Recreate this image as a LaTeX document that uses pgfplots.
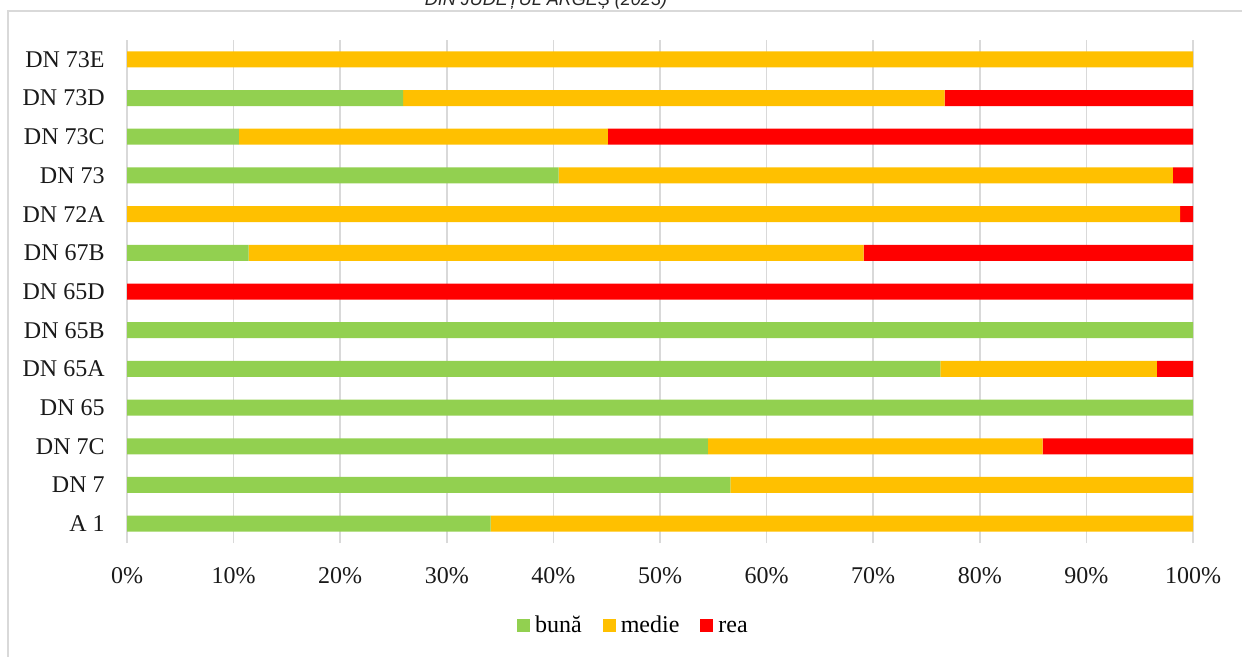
\documentclass[border=0pt]{standalone}
\usepackage{pgfplots}
\pgfplotsset{compat=1.18}
\usepackage{fontspec}
\setmainfont{Liberation Serif}
\newfontfamily\titlefont{Liberation Sans}
\definecolor{cgreen}{RGB}{146,208,80}
\definecolor{corange}{RGB}{255,192,0}
\definecolor{cred}{RGB}{255,0,0}
\definecolor{cgrid}{RGB}{217,217,217}
\begin{document}
\begin{tikzpicture}[x=0.5pt,y=-0.5pt]
\useasboundingbox (0,0) rectangle (1242,657);
\clip (0,0) rectangle (1242,657);
\draw[cgrid, line width=0.75pt] (8,720) -- (8,11) -- (1300,11);
\node[font=\titlefont\itshape\fontsize{9pt}{10pt}\selectfont, text=black!85, anchor=base, inner sep=0pt] at (546,6) {DIN JUDEȚUL ARGEȘ (2023)};
\coordinate (axsw) at (127,543);
\begin{axis}[
  at={(axsw)}, anchor=south west,
  scale only axis, width=533pt, height=251.5pt,
  xbar stacked, bar width=8pt,
  xmin=0, xmax=100, ymin=-0.5, ymax=12.5,
  xtick={0,10,...,100},
  ytick={0,...,12},
  yticklabels={A 1,DN 7,DN 7C,DN 65,DN 65A,DN 65B,DN 65D,DN 67B,DN 72A,DN 73,DN 73C,DN 73D,DN 73E},
  xticklabel={\pgfmathprintnumber{\tick}\%},
  /pgf/number format/assume math mode=true,
  major tick length=0pt,
  axis line style={draw=none},
  xmajorgrids, major grid style={cgrid, line width=0.75pt},
  ymajorgrids=false,
  tick label style={font=\fontsize{12pt}{14pt}\selectfont, text=black!90},
  xticklabel style={anchor=base, inner sep=0pt, yshift=-20pt},
  yticklabel style={anchor=east, inner sep=0pt, xshift=-11pt},
  legend style={at={(0.4765,-0.165)}, anchor=center, draw=none, fill=none,
    legend columns=-1, font=\fontsize{12pt}{14pt}\selectfont,
    nodes={text height=1.6ex, text depth=0.25ex, inner xsep=2.5pt},
    /tikz/every even column/.append style={column sep=8pt}},
  legend cell align=left,
  legend image code/.code={\fill[#1] (0pt,-3.25pt) rectangle (6.5pt,3.25pt);},
]
\addplot[fill=cgreen, draw=none] coordinates {
(34.1,0) (56.6,1) (54.5,2) (100,3) (76.3,4) (100,5) (0,6) (11.4,7) (0,8) (40.5,9) (10.5,10) (25.9,11) (0,12)};
\addplot[fill=corange, draw=none] coordinates {
(65.9,0) (43.4,1) (31.4,2) (0,3) (20.3,4) (0,5) (0,6) (57.7,7) (98.8,8) (57.6,9) (34.6,10) (50.8,11) (100,12)};
\addplot[fill=cred, draw=none] coordinates {
(0,0) (0,1) (14.1,2) (0,3) (3.4,4) (0,5) (100,6) (30.9,7) (1.2,8) (1.9,9) (54.9,10) (23.3,11) (0,12)};
\legend{bună,medie,rea}
\end{axis}
\end{tikzpicture}
\end{document}
